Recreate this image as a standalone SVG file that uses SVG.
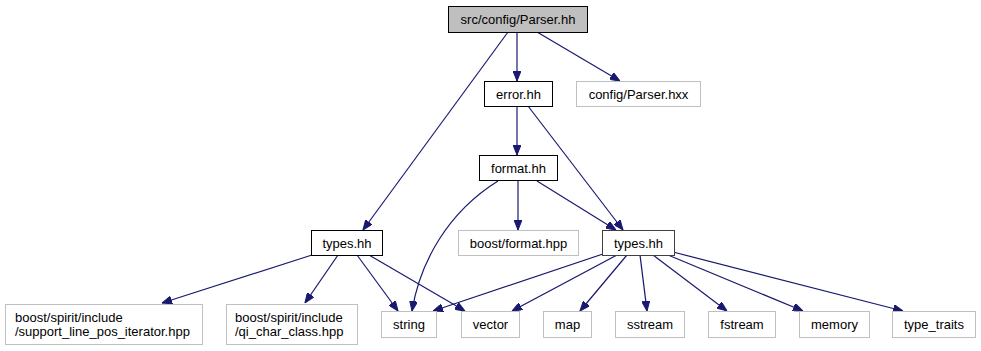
<svg xmlns="http://www.w3.org/2000/svg" width="981" height="351" viewBox="0 0 981 351">
  <style>
    text { font-family: "Liberation Sans", Arial, Helvetica, sans-serif; font-size: 13px; fill: #000; }
    .c { text-anchor: middle; }
    .box { fill: #fff; stroke: #000; stroke-width: 1; }
    .root { fill: #bfbfbf; stroke: #000; stroke-width: 1; }
    .ext { fill: #fff; stroke: #bfbfbf; stroke-width: 1; }
    .dark { fill: #fff; stroke: #404040; stroke-width: 1; }
    .edge { fill: none; stroke: #191970; stroke-width: 1.2; marker-end: url(#arrow); }
  </style>
  <defs>
    <marker id="arrow" viewBox="0 0 10 8" refX="10" refY="4" markerWidth="10" markerHeight="8" markerUnits="userSpaceOnUse" orient="auto">
      <path d="M0,0 L10,4 L0,8 z" fill="#191970" stroke="#191970"/>
    </marker>
  </defs>
  <rect width="981" height="351" fill="#fff"/>

  <!-- dependency edges -->
  <g id="edges">
    <path class="edge" d="M508,32 L363,230"/>
    <path class="edge" d="M517,32 L517,81"/>
    <path class="edge" d="M537,32 L620,81"/>
    <path class="edge" d="M517,106 L517,155"/>
    <path class="edge" d="M528,106 L623,230"/>
    <path class="edge" d="M498,181 C448,212 420,262 412,311"/>
    <path class="edge" d="M518,181 L518,230"/>
    <path class="edge" d="M537,181 L616,230"/>
    <path class="edge" d="M312,255 L162,303"/>
    <path class="edge" d="M338,255 L305,303"/>
    <path class="edge" d="M357,255 L398,311"/>
    <path class="edge" d="M369,255 L465,311"/>
    <path class="edge" d="M603,254 L433,311"/>
    <path class="edge" d="M617,255 L512,311"/>
    <path class="edge" d="M627,255 L580,311"/>
    <path class="edge" d="M640,255 L647,311"/>
    <path class="edge" d="M653,255 L727,311"/>
    <path class="edge" d="M668,255 L803,311"/>
    <path class="edge" d="M673,252 L903,311"/>
  </g>

  <g id="node-parser-hh">
    <rect class="root" x="448.5" y="6.5" width="139" height="26"/>
    <text class="c" x="518" y="24">src/config/Parser.hh</text>
  </g>
  <g id="node-error-hh">
    <rect class="box" x="484.5" y="81.5" width="68" height="25"/>
    <text class="c" x="518.5" y="98.5">error.hh</text>
  </g>
  <g id="node-parser-hxx">
    <rect class="ext" x="576.5" y="81.5" width="124" height="25"/>
    <text class="c" x="638.5" y="98.5">config/Parser.hxx</text>
  </g>
  <g id="node-format-hh">
    <rect class="box" x="479.5" y="155.5" width="78" height="25"/>
    <text class="c" x="518.5" y="172.5">format.hh</text>
  </g>
  <g id="node-types-hh-a">
    <rect class="box" x="311.5" y="230.5" width="71" height="25"/>
    <text class="c" x="347" y="247.5">types.hh</text>
  </g>
  <g id="node-boost-format">
    <rect class="ext" x="458.5" y="230.5" width="120" height="25"/>
    <text class="c" x="518.5" y="247.5">boost/format.hpp</text>
  </g>
  <g id="node-types-hh-b">
    <rect class="dark" x="602.5" y="230.5" width="72" height="25"/>
    <text class="c" x="638.5" y="247.5">types.hh</text>
  </g>

  <g id="node-support-line">
    <rect class="ext" x="5.5" y="304.5" width="197" height="40"/>
    <text x="15" y="322">boost/spirit/include</text>
    <text x="15" y="336">/support_line_pos_iterator.hpp</text>
  </g>
  <g id="node-qi-char-class">
    <rect class="ext" x="226.5" y="304.5" width="131" height="40"/>
    <text x="235" y="322">boost/spirit/include</text>
    <text x="235" y="336">/qi_char_class.hpp</text>
  </g>
  <g id="node-string">
    <rect class="ext" x="381.5" y="311.5" width="55" height="26"/>
    <text class="c" x="409" y="329">string</text>
  </g>
  <g id="node-vector">
    <rect class="ext" x="461.5" y="311.5" width="58" height="26"/>
    <text class="c" x="490.5" y="329">vector</text>
  </g>
  <g id="node-map">
    <rect class="ext" x="543.5" y="311.5" width="48" height="26"/>
    <text class="c" x="567.5" y="329">map</text>
  </g>
  <g id="node-sstream">
    <rect class="ext" x="615.5" y="311.5" width="69" height="26"/>
    <text class="c" x="650" y="329">sstream</text>
  </g>
  <g id="node-fstream">
    <rect class="ext" x="708.5" y="311.5" width="67" height="26"/>
    <text class="c" x="742" y="329">fstream</text>
  </g>
  <g id="node-memory">
    <rect class="ext" x="799.5" y="311.5" width="70" height="26"/>
    <text class="c" x="834.5" y="329">memory</text>
  </g>
  <g id="node-type-traits">
    <rect class="ext" x="892.5" y="311.5" width="83" height="26"/>
    <text class="c" x="934" y="329">type_traits</text>
  </g>
</svg>
